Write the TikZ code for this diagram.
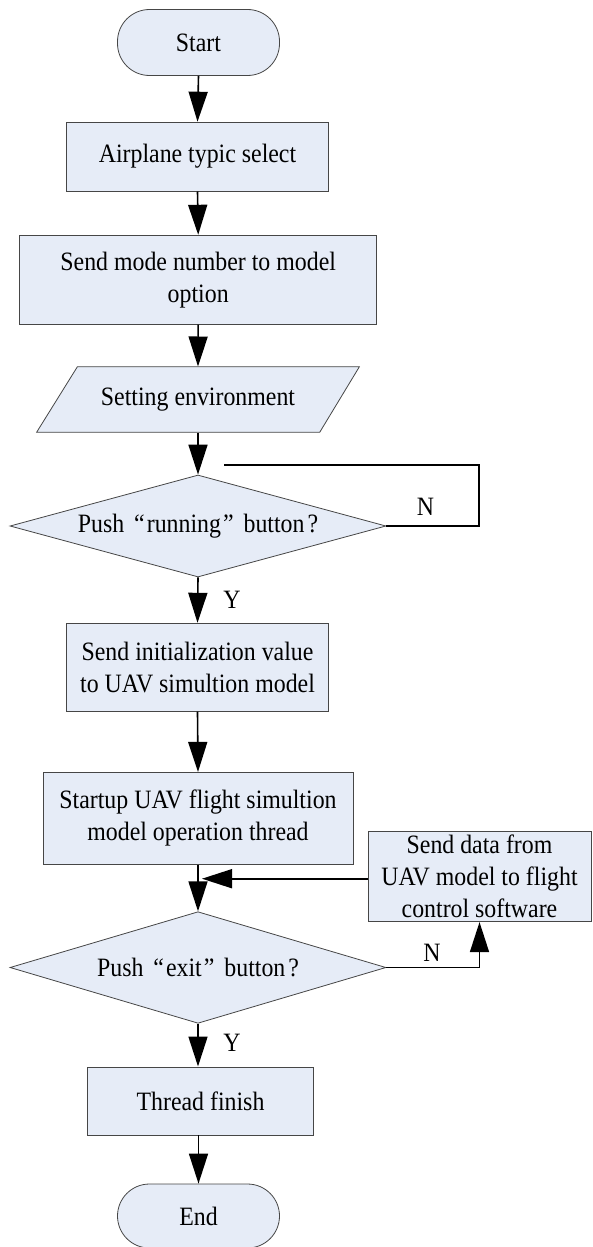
\documentclass[tikz,border=0pt]{standalone}
\usepackage{fontspec}
\setmainfont{Liberation Serif}[FakeStretch=0.9]
\usetikzlibrary{arrows.meta,shapes.geometric,calc}
\definecolor{boxfill}{RGB}{230,236,247}
\definecolor{boxline}{RGB}{70,70,70}
\begin{document}
\begin{tikzpicture}[x=1pt,y=-1pt,
  every node/.style={font=\fontsize{26.5}{32}\selectfont, text=black},
  procbox/.style={draw=boxline, line width=0.8pt, fill=boxfill, rectangle,
    inner sep=0pt, align=center},
  termbox/.style={procbox, rounded corners=32pt},
  decbox/.style={draw=boxline, line width=0.8pt, fill=boxfill, diamond,
    inner sep=0pt},
  flow/.style={line width=1.6pt, -{Triangle[length=30pt,width=19pt]}},
  plain/.style={line width=1.6pt},
  lbl/.style={inner sep=1pt}
]
\useasboundingbox (0,0) rectangle (592,1247);

% main column
\node[termbox, minimum width=162pt, minimum height=66pt] (start) at (198.5,42.5) {Start};
\node[procbox, minimum width=262pt, minimum height=69pt] (sel) at (197.5,156.6) {Airplane typic select};
\node[procbox, minimum width=357pt, minimum height=89pt] (mode) at (198.2,279.7) {Send mode number to model\\option};

% input/output step drawn as a parallelogram
\node[minimum width=323pt, minimum height=65.6pt, inner sep=0pt] (env) at (198,399.5) {};
\draw[boxline, line width=0.8pt, fill=boxfill]
  (77.4,366.7) -- (359.4,366.7) -- (319.7,432.3) -- (36.6,432.3) -- cycle;
\node at (env) {Setting environment};

\node[decbox, minimum width=376pt, minimum height=102pt] (run) at (198,526) {};
\node at (run) {Push\hspace{10pt}“\kern2pt running\kern2pt”\hspace{10pt}button\hspace{3pt}?};

\node[procbox, minimum width=262pt, minimum height=88pt] (init) at (197.5,667.2) {Send initialization value\\to UAV simultion model};
\node[procbox, minimum width=310pt, minimum height=92pt] (thr) at (198,818.3) {Startup UAV flight simultion\\model operation thread};

\node[procbox, minimum width=223pt, minimum height=90pt] (send) at (479.5,876.7) {Send data from\\UAV model to flight\\control software};

\node[decbox, minimum width=376pt, minimum height=111.6pt] (exit) at (198,967.5) {};
\node at (exit) {Push\hspace{10pt}“\kern2pt exit\kern2pt”\hspace{10pt}button\hspace{3pt}?};

\node[procbox, minimum width=226pt, minimum height=68pt] (fin) at (200.5,1100.9) {Thread finish};
\node[termbox, minimum width=162pt, minimum height=64pt] (end) at (198.5,1216) {End};

% connectors
\draw[flow] (start.south) -- (sel.north);
\draw[flow] (sel.south) -- (mode.north);
\draw[flow] (mode.south) -- (env.north);
\draw[flow] (env.south) -- (run.north);

\coordinate (loopc) at (478.7,465);
\coordinate (loopend) at (224.2,465);
\draw[plain] (run.east) -| (loopc) -- (loopend);
\node[lbl] at (425.5,507) {N};

\draw[flow] (run.south) -- (init.north);
\node[lbl] at (232,600) {Y};

\draw[flow] (init.south) -- (thr.north);
\draw[flow] (thr.south) -- (exit.north);

\coordinate (merge) at (202,878.7);
\draw[flow] (send.west |- merge) -- (merge);

\draw[flow] (exit.east) -| (send.south);
\node[lbl] at (432,953) {N};

\draw[flow] (exit.south) -- (exit.south |- fin.north);
\node[lbl] at (232,1043) {Y};

\draw[flow] (fin.south -| end.north) -- (end.north);
\end{tikzpicture}
\end{document}
